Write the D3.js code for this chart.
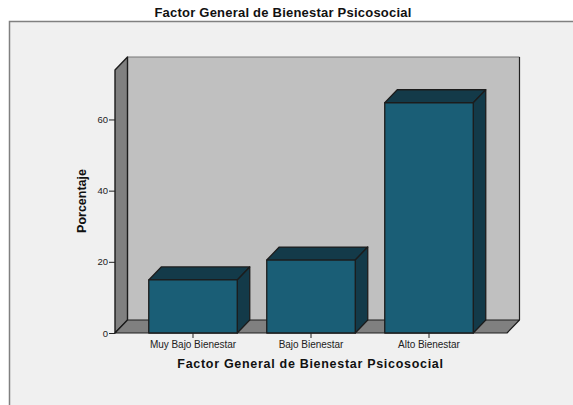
<!DOCTYPE html>
<html><head><meta charset="utf-8">
<style>html,body{margin:0;padding:0;background:#fff;overflow:hidden}svg{display:block}text{font-family:"Liberation Sans",Arial,sans-serif}</style>
<script src="https://cdn.jsdelivr.net/npm/d3@7/dist/d3.min.js"></script>
</head><body><script>
const categories = ["Muy Bajo Bienestar","Bajo Bienestar","Alto Bienestar"];
const values = [14.9,20.5,64.7];
const yTicks = [0,20,40,60];
const chartTitle = "Factor General de Bienestar Psicosocial";
const yLabel = "Porcentaje";
const W=573,H=405, dx=12.5, dy=13;
const svg=d3.select("body").append("svg").attr("width",W).attr("height",H);
svg.append("rect").attr("x",9.5).attr("y",21.5).attr("width",W).attr("height",H).attr("fill","#f0f0f0").attr("stroke","#808080").attr("stroke-width",1.5);
const y=d3.scaleLinear().domain([0,73.9]).range([333,70]);
const x=d3.scaleBand().domain(categories).range([134,488]).paddingInner(.25).paddingOuter(.125);
const xL=115,xR=507,y0=y(0),yT=y(73.9);
const stroke="#1c1c1c";
const poly=(pts,fill,sw=1.3)=>svg.append("polygon").attr("points",pts.map(p=>p.join(",")).join(" ")).attr("fill",fill).attr("stroke",stroke).attr("stroke-width",sw).attr("stroke-linejoin","round");
// back wall, side wall, floor
svg.append("polygon").attr("points",[[xL+dx,yT-dy],[xR+dx,yT-dy],[xR+dx,y0-dy],[xL+dx,y0-dy]].join(" ")).attr("fill","#c0c0c0");
svg.append("path").attr("d",`M${xL+dx},${yT-dy}H${xR+dx}`).attr("fill","none").attr("stroke","#777").attr("stroke-width",1.2);
svg.append("path").attr("d",`M${xR+dx},${yT-dy}V${y0-dy}`).attr("fill","none").attr("stroke","#222").attr("stroke-width",1.2);
poly([[xL,yT],[xL+dx,yT-dy],[xL+dx,y0-dy],[xL,y0]],"#808080",1.4);
poly([[xL,y0],[xL+dx,y0-dy],[xR+dx,y0-dy],[xR,y0]],"#808080",1.2);
// bars
categories.forEach((c,i)=>{
  const a=x(c),b=a+x.bandwidth(),t=y(values[i]);
  poly([[a,t],[a+dx,t-dy],[b+dx,t-dy],[b,t]],"#133a49");
  poly([[b,t],[b+dx,t-dy],[b+dx,y0-dy],[b,y0]],"#133a49");
  poly([[a,t],[b,t],[b,y0],[a,y0]],"#1a5e76");
});
// axes
const gy=svg.append("g").attr("transform",`translate(${xL},0)`).call(d3.axisLeft(y).tickValues(yTicks).tickSize(6).tickPadding(1));
gy.select(".domain").remove();
gy.selectAll("line").attr("stroke","#222");
gy.selectAll("text").attr("font-size",9.5).attr("fill","#222");
const gx=svg.append("g").attr("transform",`translate(0,${y0})`).call(d3.axisBottom(x).tickSize(5).tickPadding(3));
gx.select(".domain").remove();
gx.selectAll("line").attr("stroke","#222");
gx.selectAll("text").attr("font-size",10).attr("letter-spacing",-.03).attr("fill","#222");
svg.append("text").attr("x",283).attr("y",17).attr("text-anchor","middle").attr("font-size",13).attr("font-weight","bold").attr("letter-spacing",.22).attr("fill","#111").text(chartTitle);
svg.append("text").attr("x",310.5).attr("y",368).attr("text-anchor","middle").attr("font-size",12.5).attr("font-weight","bold").attr("letter-spacing",.7).attr("fill","#111").text(chartTitle);
svg.append("text").attr("transform","translate(86,201) rotate(-90)").attr("text-anchor","middle").attr("font-size",12.5).attr("font-weight","bold").attr("fill","#111").text(yLabel);
</script></body></html>
